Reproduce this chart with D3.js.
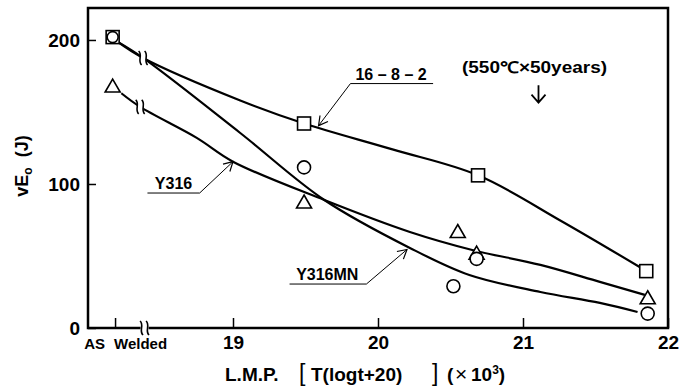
<!DOCTYPE html>
<html>
<head>
<meta charset="utf-8">
<script src="https://cdn.jsdelivr.net/npm/d3@7"></script>
<style>
body{margin:0;background:#fff}
text{font-family:"Liberation Sans",Arial,sans-serif;font-weight:bold;fill:#000}
</style>
</head>
<body>
<svg id="chart" width="694" height="387"></svg>
<script>
/* 坐标轴 */
const x_ticks = [19, 20, 21, 22]
const y_ticks = [0, 100, 200]
const as_welded_x = 18.19
const axis_break_x = 18.39

/* 测量点 */
const sq_x = [18.17, 19.49, 20.69, 21.85]          // 16-8-2
const sq_y = [202, 142, 106, 39.5]
const ci_x = [18.17, 19.49, 20.52, 20.68, 21.86]   // Y316MN
const ci_y = [202, 111.5, 29, 48, 10]
const tr_x = [18.17, 19.49, 20.55, 20.68, 21.86]   // Y316
const tr_y = [168, 87.5, 67, 52, 21]

/* 拟合曲线 */
const c1682_x = [18.2, 18.38, 19.05, 19.49, 20.1, 20.69, 21.26, 21.81]
const c1682_y = [199, 187.5, 158, 142, 124, 106, 74.5, 42]
const cmn_x = [18.2, 18.38, 19.05, 19.63, 20.22, 20.63, 21.12, 21.53, 21.79]
const cmn_y = [199, 187.5, 135.4, 88.9, 55.6, 36.8, 25, 17.4, 11.1]
const c316_x = [18.23, 18.36, 18.75, 19.0, 19.63, 20.22, 20.65, 21.12, 21.53, 21.84]
const c316_y = [163, 153.5, 132, 115.5, 88.9, 66.7, 54.2, 43.8, 32, 23]
const curve_breaks = [[18.38, 187.5], [18.36, 153.5]]

/* 标注: [文字, 文字x, 文字y, 下划线x1, 下划线x2, 拐点x, 箭头x, 箭头y] (数据单位) */
const labels = [
    ['16 – 8 – 2', 20.09, 172.5, 19.81, 20.38, 19.81, 19.59, 140.5],
    ['Y316', 18.59, 96.5, 18.41, 18.77, 18.77, 19.0, 115.5],
    ['Y316MN', 19.65, 33.3, 19.39, 19.92, 19.92, 20.2, 54.5]
]
const note_text = '(550℃×50years)'
const note_x = 21.1, note_y = 177, note_arrow = [168.5, 156.5]

const svg = d3.select('#chart')
const m_left = 88, m_right = 668, m_top = 8, m_bottom = 328

const x = d3.scaleLinear().domain([18, 22]).range([m_left, m_right])
const y = d3.scaleLinear().domain([0, 222.2]).range([m_bottom, m_top])

svg.append('defs').append('marker')
    .attr('id', 'open_arrow')
    .attr('markerUnits', 'userSpaceOnUse')
    .attr('markerWidth', 14).attr('markerHeight', 14)
    .attr('viewBox', '0 0 14 14')
    .attr('refX', 12).attr('refY', 7)
    .attr('orient', 'auto')
    .append('path')
    .attr('d', 'M3,2 L12,7 L3,12')
    .attr('fill', 'none').attr('stroke', '#000').attr('stroke-width', 1.2)

/* 轴 */
svg.append('g')
    .attr('transform', `translate(${m_left},0)`)
    .call(d3.axisLeft(y).tickValues(y_ticks).tickSize(-8).tickPadding(8))
    .call(g => g.select('.domain').remove())
    .call(g => g.selectAll('line').attr('stroke-width', 1.5))
    .call(g => g.selectAll('text').style('font-size', '19px').attr('font-family', null))

svg.append('g')
    .attr('transform', `translate(0,${m_bottom})`)
    .call(d3.axisBottom(x).tickValues(x_ticks).tickFormat(d3.format('d')).tickSize(-10).tickPadding(8))
    .call(g => g.select('.domain').remove())
    .call(g => g.selectAll('line').attr('stroke-width', 1.5))
    .call(g => g.selectAll('text').style('font-size', '19px').attr('font-family', null))

svg.append('line')
    .attr('x1', x(as_welded_x)).attr('x2', x(as_welded_x))
    .attr('y1', m_bottom).attr('y2', m_bottom - 10)
    .attr('stroke', '#000').attr('stroke-width', 1.5)

svg.append('text').attr('x', x(as_welded_x) - 21).attr('y', m_bottom + 21)
    .attr('text-anchor', 'middle').style('font-size', '15px').text('AS')
svg.append('text').attr('x', x(as_welded_x) + 25).attr('y', m_bottom + 21)
    .attr('text-anchor', 'middle').style('font-size', '15px').text('Welded')

/* 框 */
const bx = x(axis_break_x)
svg.append('path')
    .attr('d', `M${bx - 4},${m_bottom} H${m_left} V${m_top} H${m_right} V${m_bottom} H${bx + 4}`)
    .attr('fill', 'none').attr('stroke', '#000').attr('stroke-width', 2.5)

/* 断点符号 */
const draw_break = (cx, cy) => {
    const g = svg.append('g').attr('transform', `translate(${cx},${cy})`)
    g.append('rect').attr('x', -3).attr('y', -5).attr('width', 6).attr('height', 10).attr('fill', '#fff')
    ;[-3, 3].forEach(dx => {
        g.append('path')
            .attr('d', `M${dx - 1.5},-7 C${dx + 3},-3 ${dx - 3},3 ${dx + 1.5},7`)
            .attr('fill', 'none').attr('stroke', '#000').attr('stroke-width', 1.6)
    })
}

/* 曲线 */
const line = d3.line().x(d => x(d[0])).y(d => y(d[1])).curve(d3.curveCatmullRom.alpha(0.5))
;[[c1682_x, c1682_y], [cmn_x, cmn_y], [c316_x, c316_y]].forEach(([xs, ys]) => {
    svg.append('path')
        .datum(xs.map((v, i) => [v, ys[i]]))
        .attr('d', line)
        .attr('fill', 'none').attr('stroke', '#000').attr('stroke-width', 2.2)
})

curve_breaks.forEach(d => draw_break(x(d[0]), y(d[1])))
draw_break(bx, m_bottom)

/* 标注 */
labels.forEach(d => {
    svg.append('text')
        .attr('x', x(d[1])).attr('y', y(d[2]))
        .attr('text-anchor', 'middle').style('font-size', '16px')
        .text(d[0])
    svg.append('line')
        .attr('x1', x(d[3])).attr('x2', x(d[4]))
        .attr('y1', y(d[2]) + 4).attr('y2', y(d[2]) + 4)
        .attr('stroke', '#000').attr('stroke-width', 1)
    svg.append('line')
        .attr('x1', x(d[5])).attr('y1', y(d[2]) + 4)
        .attr('x2', x(d[6])).attr('y2', y(d[7]))
        .attr('stroke', '#000').attr('stroke-width', 1)
        .attr('marker-end', 'url(#open_arrow)')
})

svg.append('text')
    .attr('x', x(note_x) - 3).attr('y', y(note_y))
    .attr('text-anchor', 'middle').style('font-size', '16px')
    .attr('textLength', 145).attr('lengthAdjust', 'spacingAndGlyphs')
    .text(note_text)
const ax = x(note_x) + 1, ay1 = y(note_arrow[0]), ay2 = y(note_arrow[1])
svg.append('path')
    .attr('d', `M${ax},${ay1} V${ay2} M${ax - 7},${ay2 - 8} L${ax},${ay2} L${ax + 7},${ay2 - 8}`)
    .attr('fill', 'none').attr('stroke', '#000').attr('stroke-width', 1.8)

/* 点 */
const mark_style = sel => sel.attr('fill', '#fff').attr('stroke', '#000').attr('stroke-width', 1.6)

svg.selectAll('.tri')
    .data(tr_x.map((v, i) => [v, tr_y[i]]))
    .join('path').classed('tri', true)
    .attr('d', d => `M${x(d[0])},${y(d[1]) - 7} L${x(d[0]) + 7.5},${y(d[1]) + 6} L${x(d[0]) - 7.5},${y(d[1]) + 6} Z`)
    .call(mark_style)

svg.selectAll('.sq')
    .data(sq_x.map((v, i) => [v, sq_y[i]]))
    .join('rect').classed('sq', true)
    .attr('x', d => x(d[0]) - 6.5).attr('y', d => y(d[1]) - 6.5)
    .attr('width', 13).attr('height', 13)
    .call(mark_style)

svg.selectAll('.ci')
    .data(ci_x.map((v, i) => [v, ci_y[i]]))
    .join('circle').classed('ci', true)
    .attr('cx', d => x(d[0])).attr('cy', d => y(d[1]))
    .attr('r', d => d[0] < 18.5 ? 5.5 : 6.5)
    .call(mark_style)

/* 轴标题 */
const yt = svg.append('text')
    .attr('transform', `translate(28,166) rotate(-90)`)
    .attr('text-anchor', 'middle').style('font-size', '18px')
    .attr('xml:space', 'preserve')
yt.append('tspan').text('vE')
yt.append('tspan').attr('dy', 4).style('font-size', '12px').text('o')
yt.append('tspan').attr('dy', -4).text('  (J)')

const xt = svg.append('text').attr('y', 381).style('font-size', '19px')
xt.append('tspan').attr('x', 225).text('L.M.P.')
xt.append('tspan').attr('x', 299).style('font-weight', 'normal').style('font-size', '23px').text('[')
xt.append('tspan').attr('x', 311).text('T(logt+20)')
xt.append('tspan').attr('x', 432).style('font-weight', 'normal').style('font-size', '23px').text(']')
xt.append('tspan').attr('x', 447).text('(')
xt.append('tspan').attr('x', 455).style('font-weight', 'normal').style('font-size', '21px').text('×')
xt.append('tspan').attr('x', 471).text('10')
xt.append('tspan').attr('dy', -7).style('font-size', '12px').text('3')
xt.append('tspan').attr('dy', 7).text(')')
</script>
</body>
</html>
